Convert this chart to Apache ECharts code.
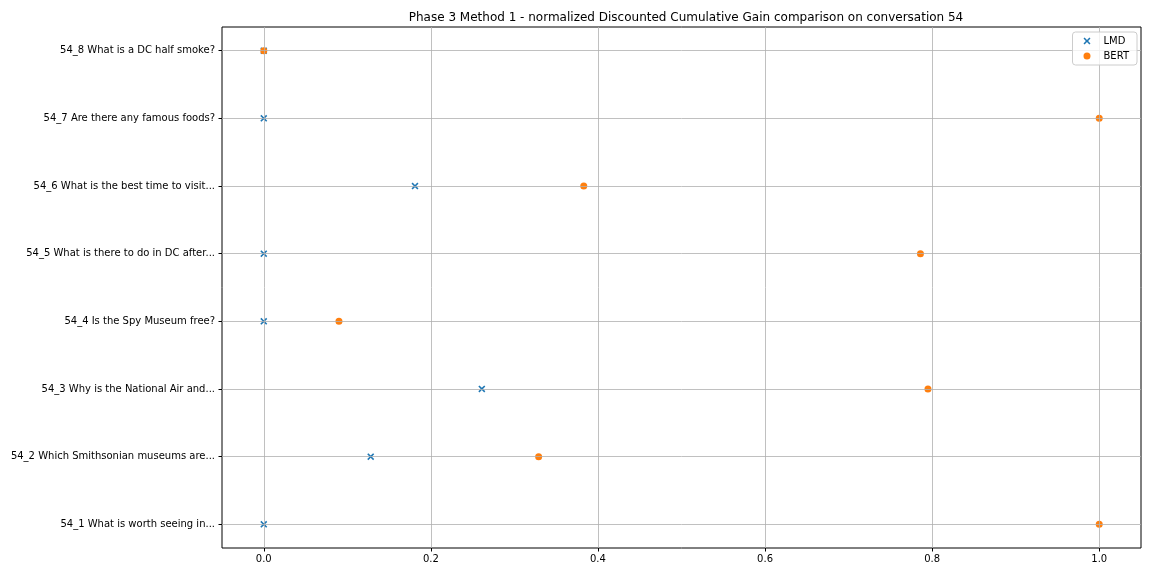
<!DOCTYPE html>
<html>
<head>
<meta charset="utf-8">
<script src="https://cdn.jsdelivr.net/npm/echarts@6/dist/echarts.min.js"></script>
<style>
  html, body { margin: 0; padding: 0; background: #fff; }
  #chart { width: 1152px; height: 576px; }
</style>
</head>
<body>
<div id="chart"></div>
<script>
var questions = [
  '54_1 What is worth seeing in...',
  '54_2 Which Smithsonian museums are...',
  '54_3 Why is the National Air and...',
  '54_4 Is the Spy Museum free?',
  '54_5 What is there to do in DC after...',
  '54_6 What is the best time to visit...',
  '54_7 Are there any famous foods?',
  '54_8 What is a DC half smoke?'
];
var lmdScores = [0, 0.128, 0.261, 0, 0, 0.181, 0, 0];
var bertScores = [1.0, 0.329, 0.795, 0.09, 0.786, 0.383, 1.0, 0];
var xTicks = [0, 0.2, 0.4, 0.6, 0.8, 1.0];

// thick "x" marker, like matplotlib's 'x'
var crossPath = 'path://M0,1.6 L1.6,0 L5,3.4 L8.4,0 L10,1.6 L6.6,5 L10,8.4 L8.4,10 L5,6.6 L1.6,10 L0,8.4 L3.4,5 Z';
var font = 'DejaVu Sans';

var myChart = echarts.init(document.getElementById('chart'));

var option = {
  animation: false,
  textStyle: { fontFamily: font },
  title: {
    text: 'Phase 3 Method 1 - normalized Discounted Cumulative Gain comparison on conversation 54',
    left: 681, top: 7, textAlign: 'center',
    textStyle: { fontFamily: font, fontSize: 12, fontWeight: 'normal', color: '#000' }
  },
  legend: {
    orient: 'vertical',
    right: 15, top: 32,
    padding: [4, 8, 4, 11],
    itemGap: 5,
    itemWidth: 7, itemHeight: 7,
    borderColor: '#cccccc', borderWidth: 1, borderRadius: 3,
    backgroundColor: 'rgba(255,255,255,0.8)',
    textStyle: { fontFamily: font, fontSize: 10, color: '#000', padding: [0, 0, 0, 8] },
    data: ['LMD', 'BERT']
  },
  grid: [
    { left: 222, right: 11, top: 27, bottom: 28, show: true, borderColor: '#000', borderWidth: 1, backgroundColor: 'transparent' },
    { left: 222, right: 11, top: 50.7, bottom: 51.7 }
  ],
  xAxis: [
    {
      gridIndex: 0, type: 'value', min: -0.05, max: 1.05,
      axisLine: { show: false, onZero: false },
      axisTick: { show: true, length: 3.5, customValues: xTicks, lineStyle: { color: '#000' } },
      axisLabel: {
        customValues: xTicks, fontSize: 10, color: '#000', margin: 6,
        formatter: function (v) { return v.toFixed(1); }
      },
      splitLine: { show: false }
    },
    {
      gridIndex: 1, type: 'value', min: -0.05, max: 1.05,
      show: false, axisLine: { onZero: false }
    }
  ],
  yAxis: [
    {
      gridIndex: 0, type: 'value', min: 0, max: 1,
      axisLine: { show: false, onZero: false }, axisTick: { show: false },
      axisLabel: { show: false }, splitLine: { show: false }
    },
    {
      gridIndex: 1, type: 'category', data: questions, boundaryGap: false,
      axisLine: { show: false, onZero: false },
      axisTick: { show: true, length: 3.5, lineStyle: { color: '#000' } },
      axisLabel: { fontSize: 10, color: '#000', margin: 7 },
      splitLine: { show: true, lineStyle: { color: '#b0b0b0', width: 0.8 } }
    }
  ],
  series: [
    {
      // vertical grid lines spanning the full box
      type: 'line', xAxisIndex: 0, yAxisIndex: 0, silent: true, z: 0,
      data: [],
      markLine: {
        silent: true, symbol: 'none', label: { show: false }, z: 0,
        lineStyle: { color: '#b0b0b0', width: 0.8, type: 'solid' },
        data: xTicks.map(function (t) { return { xAxis: t }; })
      }
    },
    {
      name: 'LMD', type: 'scatter', xAxisIndex: 1, yAxisIndex: 1, z: -1,
      symbol: crossPath, symbolSize: 7,
      itemStyle: { color: '#1f77b4', opacity: 1 },
      data: lmdScores.map(function (v, i) { return [v, questions[i]]; })
    },
    {
      name: 'BERT', type: 'scatter', xAxisIndex: 1, yAxisIndex: 1, z: -1,
      symbol: 'circle', symbolSize: 7,
      itemStyle: { color: '#ff7f0e', opacity: 1 },
      data: bertScores.map(function (v, i) { return [v, questions[i]]; })
    }
  ]
};

myChart.setOption(option);
</script>
</body>
</html>
